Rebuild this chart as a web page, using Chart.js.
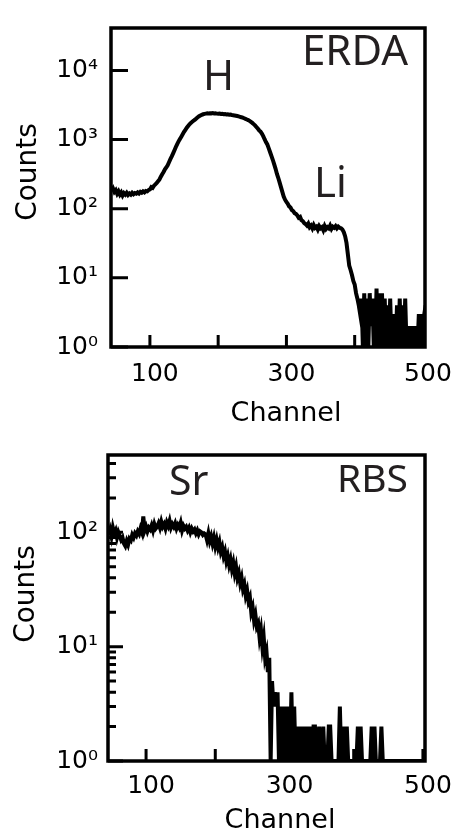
<!DOCTYPE html>
<html><head><meta charset="utf-8">
<script src="https://cdn.jsdelivr.net/npm/chart.js@4.4.1/dist/chart.umd.min.js"></script>
<style>
html,body{margin:0;padding:0;background:#fff;width:459px;height:829px;overflow:hidden}
canvas{position:absolute;left:0}
#c1{top:0}
#c2{top:430px}
</style></head><body>
<canvas id="c1" width="459" height="430"></canvas>
<canvas id="c2" width="459" height="399"></canvas>
<script>
// ---------- DATA ----------
// ERDA spectrum: counts per channel, channels 44,46,...,504
const erdaStart = 44, erdaStep = 2;
const erdaCounts = [
  180,195,175,185,165,178,160,172,155,168,
  160,170,158,166,160,170,162,168,165,172,
  166,175,170,178,172,180,178,186,190,205,
  200,215,225,235,250,265,290,315,340,370,
  395,425,470,520,570,630,700,780,860,940,
  1020,1100,1190,1290,1380,1480,1570,1660,1740,1810,
  1870,1940,2020,2100,2170,2230,2280,2320,2350,2370,
  2390,2380,2400,2390,2410,2380,2390,2370,2360,2370,
  2340,2350,2320,2330,2300,2310,2280,2290,2260,2250,
  2230,2210,2190,2160,2130,2100,2070,2030,1990,1950,
  1910,1860,1800,1740,1670,1600,1520,1440,1360,1300,
  1220,1120,1010,920,850,750,660,580,510,440,
  380,320,280,240,205,175,150,135,125,118,
  108,104,95,92,86,84,80,74,76,68,
  66,62,60,57,61,54,57,52,58,53,
  55,50,56,52,54,49,56,51,54,52,
  57,51,55,53,56,52,55,53,52,50,
  46,40,32,22,15,13,11,9,8,6,
  5,4,3,5,0,6,1,5,0,6,
  2,5,0,0,7,1,6,0,6,1,
  5,0,4,1,5,0,0,3,1,4,
  0,5,1,4,0,5,0,2,1,2,
  0,2,1,2,0,3,1,3,0,3,
  4
];
// RBS spectrum: counts per channel, channels 46,48,...,504
const rbsStart = 46, rbsStep = 2;
const rbsCounts = [
  95,105,92,110,98,104,90,100,93,86,
  90,80,76,84,78,88,85,95,90,98,
  94,102,97,108,100,138,104,112,102,110,
  106,115,104,118,108,112,120,110,124,112,
  118,108,122,114,126,110,118,112,120,108,
  116,110,121,104,114,108,112,104,110,100,
  108,102,106,98,104,96,102,100,95,98,
  96,86,98,84,92,80,90,76,86,74,
  82,68,74,62,68,56,62,52,58,48,
  54,44,50,40,44,36,40,32,35,28,
  31,25,27,20,22,17,19,15,16,12,
  14,10,12,8,9,6,8,0,5,3,
  4,3,4,0,3,0,3,0,3,0,
  3,0,4,0,3,0,2,0,2,0,
  2,0,2,0,2,0,2,0,2,2,
  0,1,2,0,1,2,0,1,0,2,
  2,0,1,0,1,0,1,3,0,1,
  2,0,2,1,0,1,0,0,1,0,
  2,0,2,0,1,0,0,1,0,0,
  2,0,2,0,1,0,0,2,0,0,
  0,0,1,0,1,0,0,0,0,0,
  0,0,0,0,0,0,0,0,0,0,
  0,0,0,0,0,0,0,0,0,0
];
const xTickValues = [100, 200, 300, 400, 500];
const xTickLabels = ['100', '', '300', '', '500'];
const erdaYTicks = [1, 10, 100, 1000, 10000];
const rbsYTicks = [1, 10, 100];
const rbsMinorTicks = [2,3,4,5,6,7,8,9,20,30,40,50,60,70,80,90,200,300,400];
const yTickLabels = {1: '10⁰', 10: '10¹', 100: '10²', 1000: '10³', 10000: '10⁴'};
const axisTitleX = 'Channel', axisTitleY = 'Counts';
const logFloor = 1; // zero counts are drawn on the 10^0 axis line

// ---------- HELPERS ----------
function toPoints(start, step, counts) {
  return counts.map((c, i) => ({x: start + i * step, y: Math.max(c, logFloor)}));
}

function decorPlugin(cfg) {
  return {
    id: 'decor',
    afterDraw(chart) {
      const {ctx, chartArea: a, scales} = chart;
      const x = scales.x, y = scales.y;
      ctx.save();
      ctx.strokeStyle = '#000';
      ctx.lineCap = 'butt';
      ctx.lineWidth = 3;
      ctx.beginPath();
      cfg.yMajor.forEach(v => {
        const py = y.getPixelForValue(v);
        ctx.moveTo(a.left, py); ctx.lineTo(a.left + cfg.yMajorLen, py);
      });
      (cfg.yMinor || []).forEach(v => {
        const py = y.getPixelForValue(v);
        ctx.moveTo(a.left, py); ctx.lineTo(a.left + cfg.yMinorLen, py);
      });
      xTickValues.forEach(v => {
        if (v < x.max) {
          const px = x.getPixelForValue(v);
          ctx.moveTo(px, a.bottom); ctx.lineTo(px, a.bottom - cfg.xLen);
        }
      });
      ctx.stroke();
      ctx.lineWidth = 3.5;
      ctx.strokeRect(a.left, a.top, a.right - a.left, a.bottom - a.top);

      // annotations
      ctx.fillStyle = '#231f20';
      ctx.textBaseline = 'alphabetic';
      ctx.textAlign = 'left';
      cfg.notes.forEach(n => {
        ctx.font = n.size + 'px "Noto Sans"';
        ctx.fillText(n.text, n.x, n.y);
      });

      // axis titles
      ctx.fillStyle = '#000';
      ctx.font = '27px "DejaVu Sans"';
      ctx.textAlign = 'center';
      ctx.fillText(axisTitleX, cfg.xTitle[0], cfg.xTitle[1]);
      ctx.font = '28px "DejaVu Sans"';
      ctx.translate(cfg.yTitle[0], cfg.yTitle[1]);
      ctx.rotate(-Math.PI / 2);
      ctx.fillText(axisTitleY, 0, 0);
      ctx.restore();
    }
  };
}

function makeChart(id, o) {
  return new Chart(document.getElementById(id), {
    type: 'line',
    data: {
      datasets: [{
        data: o.points,
        borderColor: '#000',
        borderWidth: 4,
        borderJoinStyle: 'miter',
        pointRadius: 0,
        fill: false,
        tension: 0
      }]
    },
    options: {
      responsive: false,
      animation: false,
      devicePixelRatio: 1,
      layout: {padding: {left: 0, top: o.padTop, right: o.padRight, bottom: 0}},
      plugins: {legend: {display: false}, tooltip: {enabled: false}},
      scales: {
        x: {
          type: 'linear', min: o.xMin, max: o.xMax,
          afterBuildTicks: s => { s.ticks = xTickValues.map(v => ({value: v})); },
          afterFit: s => { s.height = o.xHeight; },
          grid: {display: false, drawTicks: false},
          border: {display: false},
          ticks: {
            color: '#000', padding: o.xPad, maxRotation: 0, autoSkip: false,
            labelOffset: o.xLabelOffset,
            font: {family: 'DejaVu Sans', size: 25},
            callback: (v, i) => xTickLabels[i]
          }
        },
        y: {
          type: 'logarithmic', min: 1, max: o.yMax,
          afterBuildTicks: s => { s.ticks = o.yTicks.map(v => ({value: v})); },
          afterFit: s => { s.width = o.yWidth; },
          grid: {display: false, drawTicks: false},
          border: {display: false},
          ticks: {
            color: '#000', padding: o.yPad, autoSkip: false,
            font: {family: 'DejaVu Sans', size: 25},
            callback: v => yTickLabels[v] || ''
          }
        }
      }
    },
    plugins: [decorPlugin(o.decor)]
  });
}

// ---------- CHARTS ----------
makeChart('c1', {
  points: toPoints(erdaStart, erdaStep, erdaCounts),
  xMin: 43, xMax: 503, yMax: 41000, yTicks: erdaYTicks,
  padTop: 15, padRight: 30, xHeight: 83, yWidth: 111, xPad: 12, yPad: 13, xLabelOffset: 5,
  decor: {
    yMajor: erdaYTicks, yMajorLen: 17, xLen: 12,
    notes: [
      {text: 'ERDA', x: 302, y: 65, size: 42},
      {text: 'H', x: 203, y: 90, size: 42},
      {text: 'Li', x: 314, y: 197, size: 42}
    ],
    xTitle: [286, 421], yTitle: [36, 172]
  }
});

makeChart('c2', {
  points: toPoints(rbsStart, rbsStep, rbsCounts),
  xMin: 45, xMax: 503, yMax: 475, yTicks: rbsYTicks,
  padTop: 11, padRight: 34, xHeight: 68, yWidth: 108, xPad: 10, yPad: 10, xLabelOffset: 5,
  decor: {
    yMajor: rbsYTicks, yMajorLen: 15, yMinor: rbsMinorTicks, yMinorLen: 8, xLen: 12,
    notes: [
      {text: 'Sr', x: 169, y: 65, size: 41},
      {text: 'RBS', x: 337, y: 62, size: 39}
    ],
    xTitle: [280, 398], yTitle: [34, 164]
  }
});
</script>
</body></html>
